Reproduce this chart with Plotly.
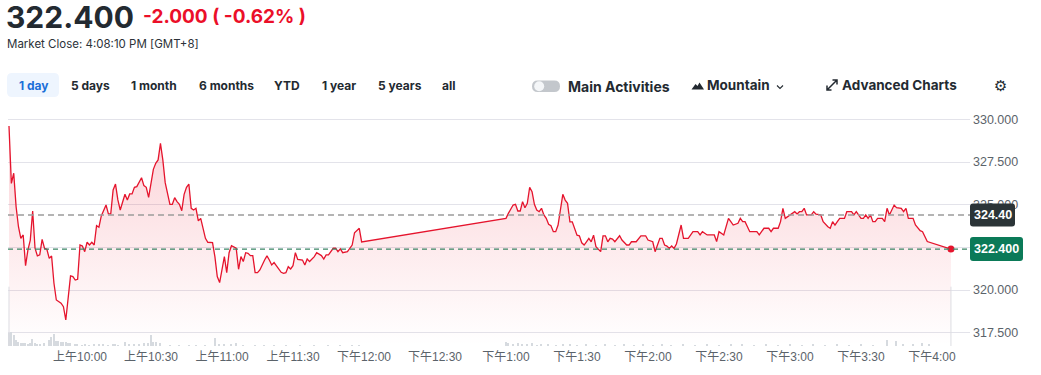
import plotly.graph_objects as go
import pandas as pd

# ---------------- data ----------------
session_date = "2024-06-14"
open_time = "09:30"

# minutes after the 09:30 open, morning session
am_minutes = [0, 1, 2, 3, 4, 5, 6, 7, 8, 9,
              10, 11, 12, 13, 14, 15, 16, 17, 18, 19,
              20, 22, 23, 24, 26, 27, 28, 29, 30, 31,
              32, 33, 34, 35, 36, 37, 38, 39, 41, 42,
              43, 44, 45, 46, 47, 48, 49, 50, 51, 52,
              53, 54, 56, 57, 58, 59, 61, 62, 63, 64,
              65, 66, 67, 68, 69, 70, 71, 72, 73, 74,
              75, 76, 77, 78, 79, 80, 81, 82, 83, 84,
              86, 87, 88, 89, 91, 92, 93, 94, 95, 96,
              97, 98, 99, 100, 101, 102, 103, 104, 105, 106,
              108, 109, 110, 111, 112, 113, 115, 116, 117, 118,
              119, 120, 121, 122, 124, 125, 126, 127, 129, 130,
              132, 133, 134, 135, 137, 138, 139, 140, 141, 143,
              144, 145, 146, 147, 148, 149]
am_prices = [329.61, 326.25, 326.84, 324.89, 323.71, 323.03, 323.23, 321.43, 322.35, 322.93,
             324.63, 322.45, 322.00, 322.06, 322.97, 322.45, 322.39, 321.86, 322.00, 320.40,
             319.42, 319.23, 319.03, 318.25, 320.83, 320.79, 320.59, 320.63, 322.64, 322.58,
             322.25, 322.80, 322.64, 322.80, 322.64, 323.77, 323.68, 324.34, 324.98, 324.46,
             324.46, 325.86, 326.21, 325.28, 324.69, 325.18, 325.61, 325.28, 325.63, 325.63,
             326.02, 326.06, 326.58, 326.12, 326.02, 325.43, 327.07, 327.42, 327.62, 328.59,
             327.62, 326.29, 325.67, 325.02, 325.02, 325.41, 325.18, 325.02, 324.65, 325.61,
             326.02, 326.21, 324.79, 324.69, 324.79, 324.05, 324.20, 323.62, 323.03, 322.80,
             322.78, 321.96, 320.79, 320.44, 321.96, 321.02, 322.19, 322.60, 322.50, 322.45,
             321.22, 321.96, 321.67, 322.19, 322.15, 322.02, 322.02, 321.02, 321.02, 321.18,
             321.76, 322.00, 321.76, 321.47, 321.61, 321.41, 321.04, 320.98, 321.02, 321.37,
             321.24, 321.43, 322.19, 321.80, 321.76, 321.47, 321.82, 321.67, 321.96, 322.19,
             322.02, 321.82, 322.06, 322.06, 322.45, 322.45, 322.25, 322.41, 322.19, 322.25,
             322.48, 322.64, 323.36, 323.48, 323.62, 322.82]

# minutes after the 09:30 open, afternoon session (13:00 = 210)
pm_minutes = [210, 211, 213, 214, 215, 216, 217, 218, 219, 220,
              221, 222, 223, 224, 225, 226, 227, 228, 229, 230,
              231, 232, 233, 234, 235, 236, 237, 238, 240, 241,
              242, 243, 244, 245, 246, 247, 248, 250, 251, 252,
              253, 254, 255, 256, 258, 259, 261, 262, 263, 265,
              267, 269, 270, 272, 273, 275, 276, 277, 278, 279,
              280, 281, 282, 284, 285, 287, 289, 291, 292, 293,
              295, 298, 299, 300, 302, 304, 305, 306, 308, 309,
              310, 311, 313, 316, 317, 318, 319, 321, 322, 323,
              325, 326, 327, 328, 329, 330, 332, 333, 334, 335,
              336, 337, 339, 340, 341, 343, 344, 346, 347, 348,
              349, 350, 351, 353, 354, 356, 357, 358, 359, 360,
              361, 362, 363, 364, 365, 366, 367, 369, 370, 371,
              372, 374, 375, 377, 378, 379, 380, 382, 383, 385,
              386, 388, 398]
pm_prices = [324.20, 324.49, 324.98, 325.02, 324.63, 324.63, 325.18, 324.82, 325.08, 326.02,
             325.76, 325.02, 324.69, 324.59, 324.79, 324.40, 324.20, 323.85, 323.77, 323.42,
             323.42, 323.81, 324.69, 325.61, 325.27, 325.08, 324.00, 324.00, 323.22, 323.18,
             322.77, 322.64, 322.83, 323.03, 322.83, 323.22, 322.54, 322.25, 323.18, 323.18,
             322.83, 323.03, 322.99, 322.83, 323.18, 322.93, 322.64, 322.64, 322.83, 322.83,
             323.18, 323.18, 322.93, 322.83, 322.25, 323.03, 323.03, 322.64, 322.58, 322.44,
             322.58, 322.44, 322.70, 323.81, 323.03, 323.03, 323.42, 323.42, 323.23, 323.42,
             323.23, 323.23, 322.84, 323.42, 323.23, 324.20, 324.01, 323.81, 323.91, 324.20,
             324.01, 324.01, 323.42, 323.42, 323.23, 323.42, 323.62, 323.62, 323.42, 323.62,
             323.62, 324.01, 324.79, 324.20, 324.30, 324.40, 324.59, 324.46, 324.59, 324.59,
             324.79, 324.40, 324.40, 324.59, 324.44, 324.40, 324.01, 323.71, 323.62, 324.01,
             323.81, 324.01, 324.20, 324.20, 324.59, 324.59, 324.40, 324.59, 324.40, 324.20,
             324.20, 324.40, 324.20, 324.40, 324.01, 324.01, 324.20, 324.20, 324.01, 324.79,
             324.40, 324.98, 324.83, 324.79, 324.59, 324.79, 324.20, 324.20, 323.81, 323.48,
             323.42, 322.84, 322.40]

# volume (relative units) per minute after open
vol_minutes = [0, 1, 2, 3, 4, 5, 6, 7, 8, 9,
               10, 11, 12, 13, 15, 17, 18, 19, 20, 21,
               22, 23, 24, 25, 26, 28, 29, 31, 32, 34,
               36, 38, 40, 42, 44, 45, 46, 49, 51, 53,
               55, 57, 59, 60, 61, 62, 64, 68, 72, 76,
               79, 83, 87, 89, 91, 94, 96, 99, 104, 108,
               112, 117, 123, 129, 135, 140, 145, 148, 210, 211,
               213, 215, 217, 219, 221, 223, 225, 228, 231, 234,
               237, 240, 244, 248, 252, 256, 260, 264, 268, 272,
               276, 280, 285, 290, 295, 300, 305, 310, 315, 320,
               325, 330, 335, 340, 345, 350, 355, 360, 365, 371,
               375, 378, 382, 386, 389]
vol_values = [13, 14, 11, 6, 4, 3, 3, 3, 2, 3,
              7, 3, 2, 2, 3, 6, 9, 12, 5, 5,
              4, 4, 4, 3, 3, 2, 2, 1, 2, 1,
              2, 2, 2, 1, 2, 2, 1, 4, 2, 2,
              2, 3, 3, 11, 4, 4, 3, 1, 1, 1,
              1, 1, 8, 2, 2, 2, 3, 1, 1, 1,
              1, 1, 1, 1, 1, 1, 1, 1, 4, 3,
              2, 3, 2, 2, 3, 1, 2, 2, 1, 2,
              2, 1, 2, 1, 2, 1, 2, 1, 2, 1,
              2, 1, 2, 1, 2, 1, 2, 2, 1, 2,
              1, 2, 1, 2, 1, 2, 1, 2, 1, 6,
              5, 2, 2, 3, 2]

prev_close = 324.40
last_price = 322.400
change = -2.000
change_pct = -0.62
close_time_text = "Market Close: 4:08:10 PM [GMT+8]"

y_ticks = [317.5, 320.0, 322.5, 325.0, 327.5, 330.0]
x_tick_times = ["10:00", "10:30", "11:00", "11:30", "12:00", "12:30", "13:00",
                "13:30", "14:00", "14:30", "15:00", "15:30", "16:00"]
x_tick_labels = ["上午10:00", "上午10:30", "上午11:00", "上午11:30", "下午12:00", "下午12:30",
                 "下午1:00", "下午1:30", "下午2:00", "下午2:30", "下午3:00", "下午3:30", "下午4:00"]
range_buttons = ["1 day", "5 days", "1 month", "6 months", "YTD", "1 year", "5 years", "all"]

# ---------------- build ----------------
base = pd.Timestamp(f"{session_date} {open_time}")
to_time = lambda mins: [base + pd.Timedelta(minutes=m) for m in mins]

times = to_time(am_minutes + pm_minutes)
prices = am_prices + pm_prices
vol_times = to_time(vol_minutes)
tick_times = [pd.Timestamp(f"{session_date} {t}") for t in x_tick_times]

W, H = 1041, 375
L, R, T, B = 8, 71, 105, 29
PW, PH = W - L - R, H - T - B

Y_MIN, Y_MAX = 316.727, 330.837
X_MIN = base + pd.Timedelta(minutes=-0.42)
X_MAX = base + pd.Timedelta(minutes=406.05)

RED = "#e5142d"
DARK = "#232a31"
GREY_TXT = "#5b636a"


def PX(x):
    return (x - L) / PW


def PY(y):
    return (T + PH - y) / PH


def py_of_price(p):
    return T + (Y_MAX - p) / (Y_MAX - Y_MIN) * PH


def rrect(x0, y0, x1, y1, r):
    return (f"M {PX(x0 + r)},{PY(y0)} L {PX(x1 - r)},{PY(y0)} "
            f"Q {PX(x1)},{PY(y0)} {PX(x1)},{PY(y0 + r)} L {PX(x1)},{PY(y1 - r)} "
            f"Q {PX(x1)},{PY(y1)} {PX(x1 - r)},{PY(y1)} L {PX(x0 + r)},{PY(y1)} "
            f"Q {PX(x0)},{PY(y1)} {PX(x0)},{PY(y1 - r)} L {PX(x0)},{PY(y0 + r)} "
            f"Q {PX(x0)},{PY(y0)} {PX(x0 + r)},{PY(y0)} Z")


fig = go.Figure()

fig.add_trace(go.Bar(
    x=vol_times, y=vol_values, yaxis="y2",
    marker=dict(color="#d6dadf", line=dict(width=0)),
    width=36000, hoverinfo="skip",
))

fig.add_trace(go.Scatter(
    x=times, y=prices, mode="lines",
    line=dict(color=RED, width=1.3),
    fill="tozeroy",
    fillgradient=dict(type="vertical",
                      colorscale=[[0, "rgba(235,15,41,0.0)"], [1, "rgba(235,15,41,0.19)"]],
                      start=Y_MIN, stop=max(prices)),
    hoverinfo="skip",
))

fig.add_trace(go.Scatter(
    x=[times[-1]], y=[prices[-1]], mode="markers",
    marker=dict(size=7, color=RED), hoverinfo="skip",
))

shapes = []
# edge lines of the session area
for t in (times[0], times[-1]):
    shapes.append(dict(type="line", xref="x", yref="y", x0=t, x1=t, y0=Y_MIN, y1=320.2,
                       line=dict(color="#dcdde2", width=1)))
# previous close and last price reference lines
shapes.append(dict(type="line", xref="paper", yref="y", x0=0, x1=1, y0=prev_close, y1=prev_close,
                   line=dict(color="#9c9c9c", width=1.4, dash="6px,4px")))
shapes.append(dict(type="line", xref="paper", yref="y", x0=0, x1=1, y0=last_price, y1=last_price,
                   line=dict(color="#3b8566", width=1.1, dash="5px,4px")))
# price boxes on right axis
yb1 = py_of_price(prev_close)
shapes.append(dict(type="path", xref="paper", yref="paper", path=rrect(970, yb1 - 11.5, 1015, yb1 + 11.5, 3),
                   fillcolor="#2b3437", line=dict(width=0)))
yb2 = py_of_price(last_price)
shapes.append(dict(type="path", xref="paper", yref="paper", path=rrect(970, yb2 - 12, 1023, yb2 + 12, 3),
                   fillcolor="#0b7a58", line=dict(width=0)))
# "1 day" pill
shapes.append(dict(type="path", xref="paper", yref="paper", path=rrect(7, 73, 59, 97, 5),
                   fillcolor="#eef5fe", line=dict(width=0)))
# toggle
shapes.append(dict(type="path", xref="paper", yref="paper", path=rrect(532, 80.5, 560, 92, 5.75),
                   fillcolor="#c3c7cc", line=dict(width=0)))
shapes.append(dict(type="circle", xref="paper", yref="paper",
                   x0=PX(534.2), x1=PX(544.2), y0=PY(81.3), y1=PY(91.3),
                   fillcolor="#f4f6f8", line=dict(width=0)))
# mountain icon
shapes.append(dict(type="path", xref="paper", yref="paper",
                   path=(f"M {PX(691.5)},{PY(89.5)} L {PX(695.5)},{PY(84)} L {PX(697.5)},{PY(86)} "
                         f"L {PX(699.5)},{PY(82.5)} L {PX(704)},{PY(89.5)} Z"),
                   fillcolor=DARK, line=dict(width=0)))
# chevron
shapes.append(dict(type="path", xref="paper", yref="paper",
                   path=f"M {PX(777)},{PY(85.5)} L {PX(780)},{PY(88.5)} L {PX(783)},{PY(85.5)}",
                   line=dict(color=DARK, width=1.1)))
# expand arrow icon
shapes.append(dict(type="path", xref="paper", yref="paper",
                   path=(f"M {PX(827)},{PY(90)} L {PX(837)},{PY(80)} "
                         f"M {PX(832.5)},{PY(80)} L {PX(837)},{PY(80)} L {PX(837)},{PY(84.5)} "
                         f"M {PX(827)},{PY(85.5)} L {PX(827)},{PY(90)} L {PX(831.5)},{PY(90)}"),
                   line=dict(color=DARK, width=1.5)))

annotations = []


def label(text, x, y, size, color=DARK, weight=400, family="Inter", xanchor="left"):
    annotations.append(dict(text=text, x=PX(x), y=PY(y), xref="paper", yref="paper",
                            xanchor=xanchor, yanchor="middle", showarrow=False,
                            borderpad=0, borderwidth=0,
                            font=dict(family=family, size=size, color=color, weight=weight)))


label(f"{last_price:.3f}", 6, 17, 30, DARK, 700)
label(f"{change:.3f} ( {change_pct:.2f}% )", 143, 16, 19, "#eb0f29", 700)
label(close_time_text, 7, 44, 11.5, "#2c3238", 400)

button_x = [19, 71, 131, 199, 274, 322, 378, 442]
for i, (txt, bx) in enumerate(zip(range_buttons, button_x)):
    label(txt, bx, 85, 12, "#1b6fd8" if i == 0 else DARK, 700)

label("Main Activities", 568, 86, 14, DARK, 700)
label("Mountain", 707, 85, 13.5, DARK, 700)
label("Advanced Charts", 842, 84.5, 13.5, DARK, 700)
label("⚙", 1000.5, 86, 15, DARK, 400, "DejaVu Sans", "center")

label(f"{prev_close:.2f}", 992.5, yb1, 12.5, "#ffffff", 700, "Liberation Sans", "center")
label(f"{last_price:.3f}", 996.5, yb2, 12.5, "#ffffff", 700, "Liberation Sans", "center")

# the 322.500 tick label sits fully behind the last-price box in the reference
y_ticktext = ["" if abs(v - last_price) < 0.2 else f"{v:.3f}" for v in y_ticks]

fig.update_layout(
    width=W, height=H, autosize=False,
    margin=dict(l=L, r=R, t=T, b=B, pad=0),
    paper_bgcolor="white", plot_bgcolor="white",
    showlegend=False, hovermode=False, bargap=0,
    shapes=shapes, annotations=annotations,
    xaxis=dict(type="date", range=[X_MIN, X_MAX], tickvals=tick_times, ticktext=x_tick_labels,
               showgrid=False, zeroline=False, showline=False, ticks="",
               ticklabelstandoff=2,
               tickfont=dict(family="Liberation Sans, Noto Sans CJK SC", size=12, color=GREY_TXT),
               fixedrange=True),
    yaxis=dict(side="right", range=[Y_MIN, Y_MAX], tickvals=y_ticks,
               ticktext=y_ticktext,
               showgrid=True, gridcolor="#e3e3ea", gridwidth=1, zeroline=False, showline=False,
               ticks="", ticklabelstandoff=2,
               tickfont=dict(family="Liberation Sans", size=12.5, color=GREY_TXT),
               fixedrange=True),
    yaxis2=dict(overlaying="y", range=[0, PH], visible=False, fixedrange=True),
)

fig.write_html("out.html", config={"displayModeBar": False},
               post_script="document.body.style.margin='0';document.body.style.overflow='hidden';")
